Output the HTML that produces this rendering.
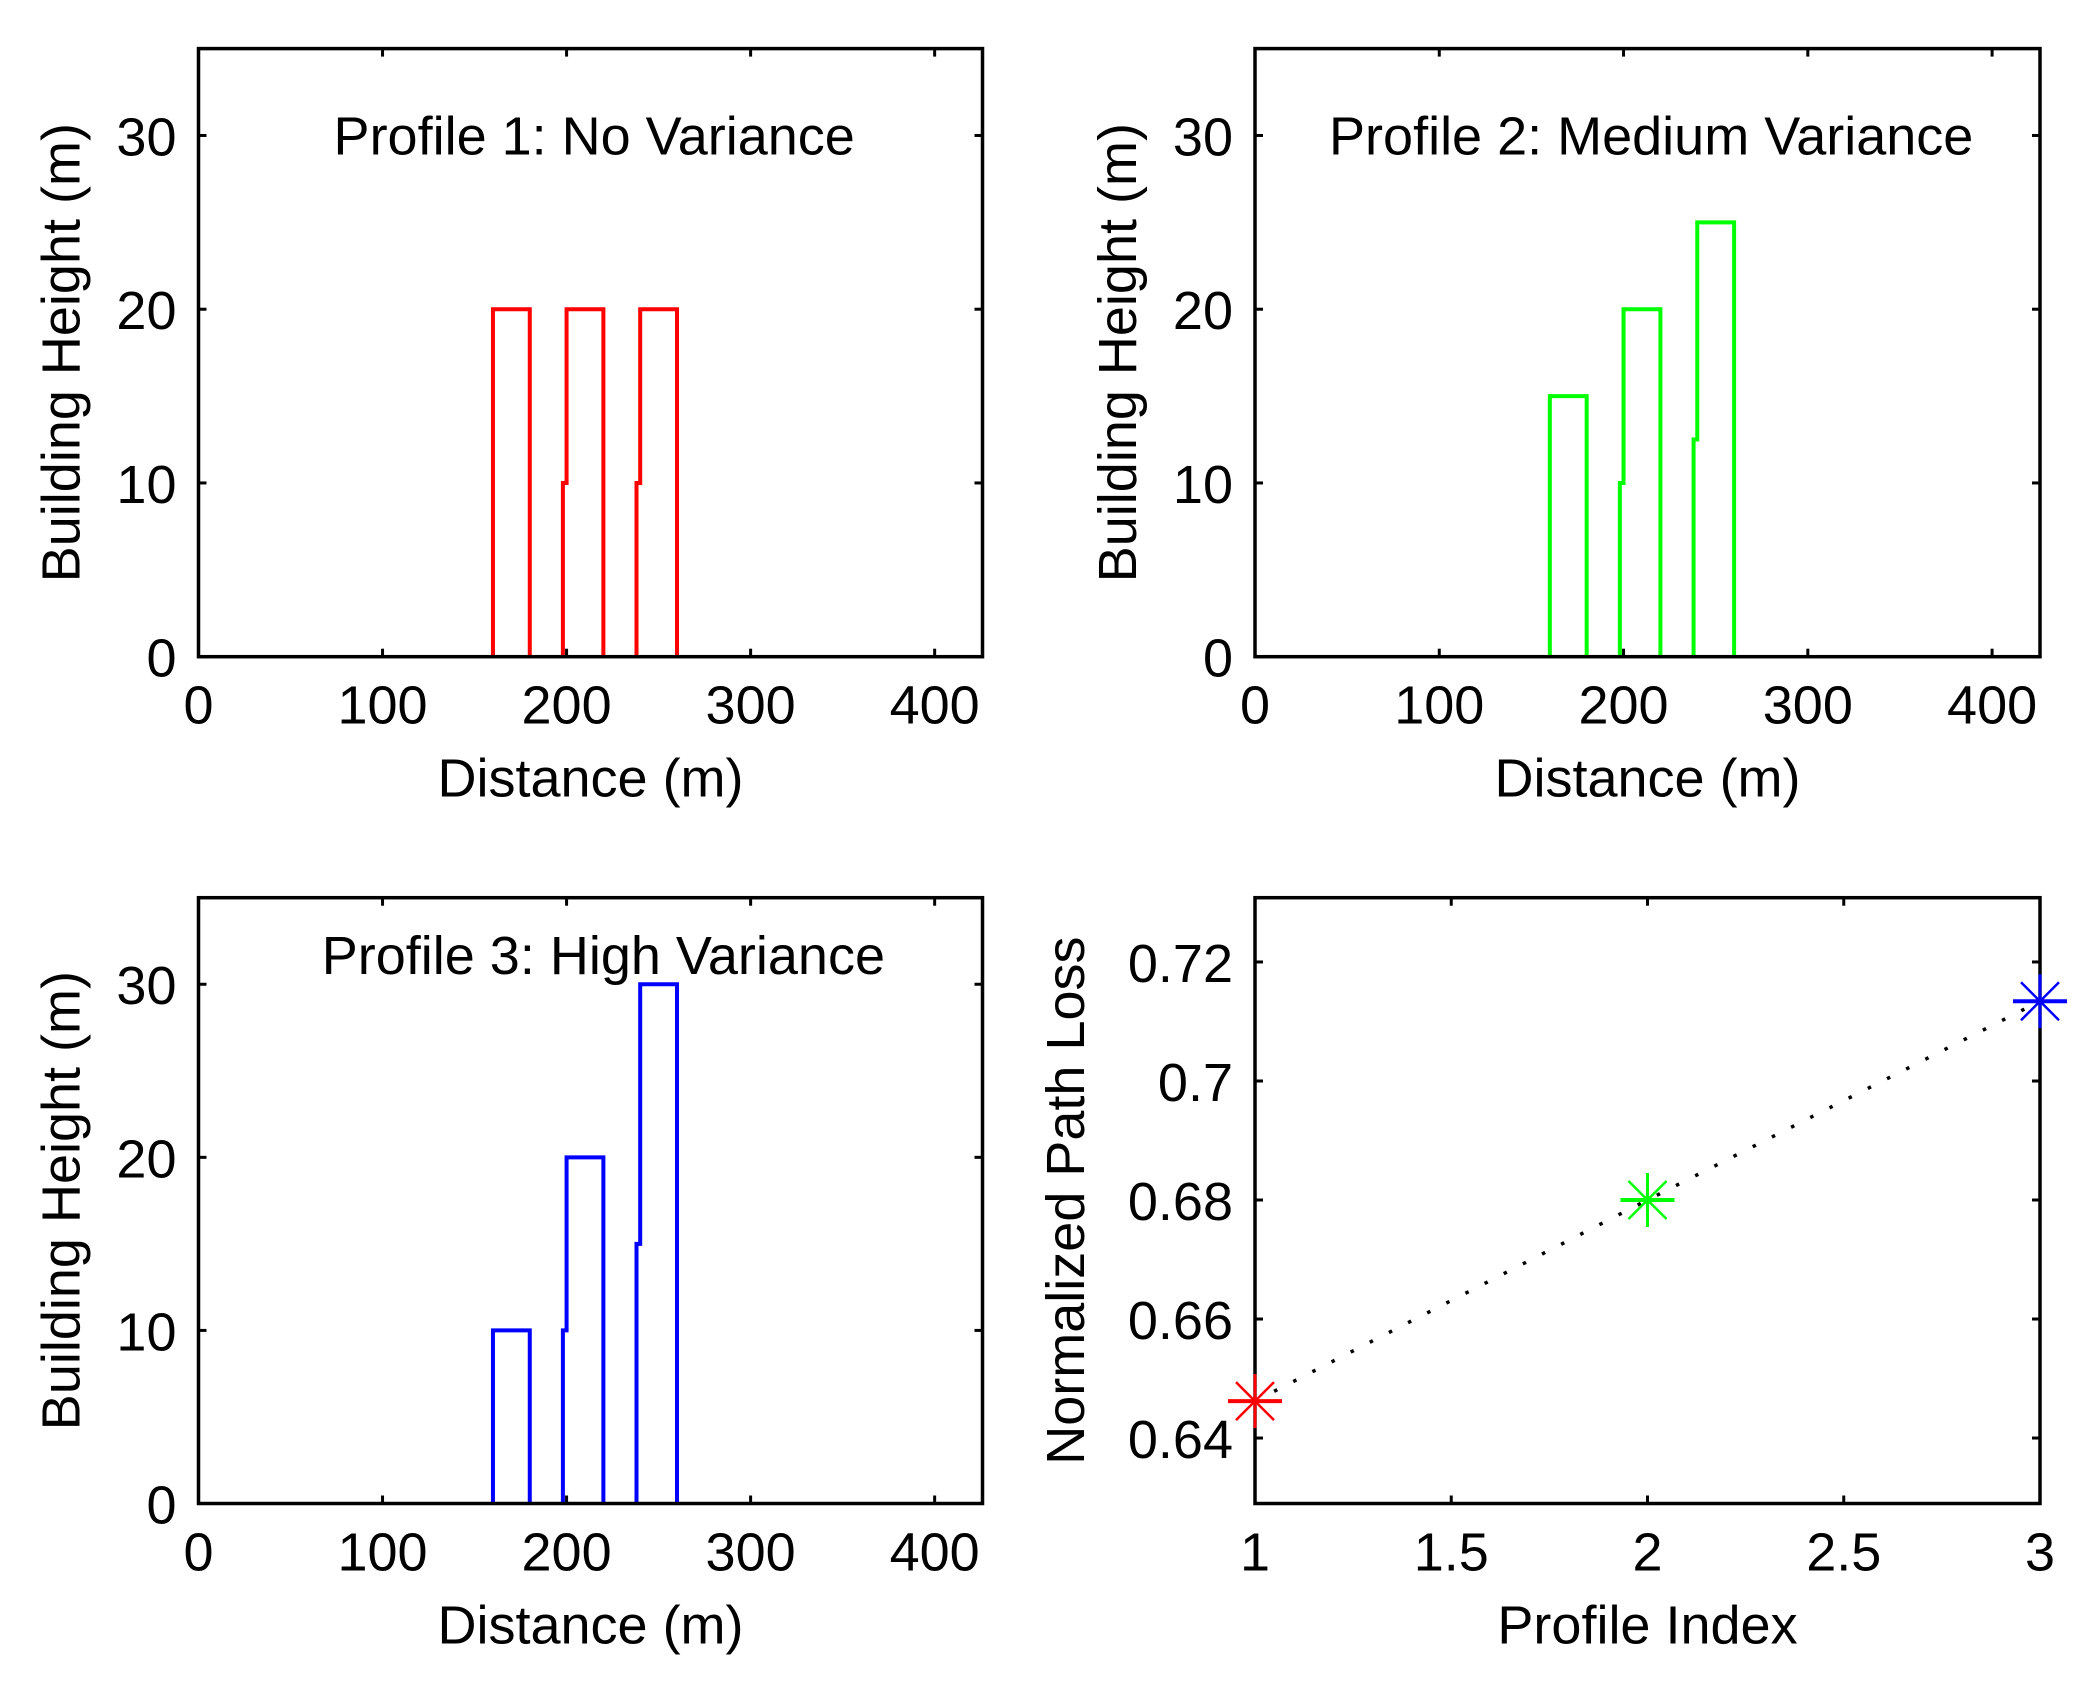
<!DOCTYPE html>
<html><head><meta charset="utf-8"><style>
html,body{margin:0;padding:0;background:#fff;}
svg{display:block;}
text{font-family:"Liberation Sans",sans-serif;fill:#000;}
</style></head><body>
<svg id="fig" width="2095" height="1686" viewBox="0 0 2095 1686" xmlns="http://www.w3.org/2000/svg"></svg>
<script>
// ---- data ----
const buildingStarts = [160, 200, 240];
const buildingWidth = 20;
const heights1 = [20, 20, 20];
const heights2 = [15, 20, 25];
const heights3 = [10, 20, 30];
const jogs1 = [0, 10, 10];
const jogs2 = [0, 10, 12.5];
const jogs3 = [0, 10, 15];
const profileTitles = ["Profile 1: No Variance", "Profile 2: Medium Variance", "Profile 3: High Variance"];
const profileColors = ["#ff0000", "#00ff00", "#0000ff"];
const distTicks = [0, 100, 200, 300, 400];
const heightTicks = [0, 10, 20, 30];
const profileIndex = [1, 2, 3];
const pathLoss = [0.6462, 0.68, 0.7134];
const indexTicks = [1, 1.5, 2, 2.5, 3];
const indexTickLabels = ["1", "1.5", "2", "2.5", "3"];
const lossTicks = [0.64, 0.66, 0.68, 0.70, 0.72];
const lossTickLabels = ["0.64", "0.66", "0.68", "0.7", "0.72"];

const NS = "http://www.w3.org/2000/svg";
const svg = document.getElementById("fig");
function mk(tag, attrs, parent) {
  const e = document.createElementNS(NS, tag);
  for (const k in attrs) e.setAttribute(k, attrs[k]);
  (parent || svg).appendChild(e);
  return e;
}
function axes(box, xlim, ylim, xt, xtl, yt, ytl, xlabel, ylabel, ylabOff, name) {
  const g = mk("g", {});
  
  
  const sx = v => box.l + (v - xlim[0]) / (xlim[1] - xlim[0]) * (box.r - box.l);
  const sy = v => box.b - (v - ylim[0]) / (ylim[1] - ylim[0]) * (box.b - box.t);
  const dataG = mk("g", {}, g);
  
  
  const frame = mk("rect", {x: box.l, y: box.t, width: box.r - box.l, height: box.b - box.t, fill: "none", stroke: "#000", "stroke-width": 3.5}, g);
  
  
  xt.forEach((v, i) => {
    const x = sx(v);
    mk("line", {x1: x, x2: x, y1: box.b, y2: box.b - 8, stroke: "#000", "stroke-width": 3}, g);
    mk("line", {x1: x, x2: x, y1: box.t, y2: box.t + 8, stroke: "#000", "stroke-width": 3}, g);
    const t = mk("text", {x: x, y: box.b + 67, "font-size": 54, "text-anchor": "middle"}, g);
    t.textContent = xtl[i];
    
    
  });
  yt.forEach((v, i) => {
    const y = sy(v);
    mk("line", {x1: box.l, x2: box.l + 8, y1: y, y2: y, stroke: "#000", "stroke-width": 3}, g);
    mk("line", {x1: box.r, x2: box.r - 8, y1: y, y2: y, stroke: "#000", "stroke-width": 3}, g);
    const t = mk("text", {x: box.l - 22, y: y + 20, "font-size": 54, "text-anchor": "end"}, g);
    t.textContent = ytl[i];
    
    
  });
  const xl = mk("text", {x: (box.l + box.r) / 2, y: box.b + 140, "font-size": 54, "text-anchor": "middle"}, g);
  xl.textContent = xlabel;
  
  
  const cy = (box.t + box.b) / 2, cx = box.l - ylabOff;
  const yl = mk("text", {x: cx, y: cy, "font-size": 54, "text-anchor": "middle", "dominant-baseline": "central", transform: `rotate(-90 ${cx} ${cy})`}, g);
  yl.textContent = ylabel;
  
  
  return {sx, sy, g: dataG, outer: g};
}

const boxes = [
  {l: 198.5, r: 982.5, t: 48.6, b: 656.7},
  {l: 1255, r: 2040, t: 48.6, b: 656.7},
  {l: 198.5, r: 982.5, t: 897.7, b: 1503.5}
];
const allHeights = [heights1, heights2, heights3];
const allJogs = [jogs1, jogs2, jogs3];
const titleX = [215, 215, 220];
const titleY = [28.9, 28.9, 30.6];
for (let p = 0; p < 3; p++) {
  const a = axes(boxes[p], [0, 426], [0, 35], distTicks, distTicks.map(String), heightTicks, heightTicks.map(String),
    "Distance (m)", "Building Height (m)", 137, "profile-" + (p + 1) + "-panel");
  const hs = allHeights[p], js = allJogs[p];
  buildingStarts.forEach((s, i) => {
    let pts = [];
    if (i === 0) {
      pts.push([s, 0], [s, hs[i]]);
    } else {
      pts.push([s - 2, 0], [s - 2, js[i]], [s, js[i]], [s, hs[i]]);
    }
    pts.push([s + buildingWidth, hs[i]], [s + buildingWidth, 0]);
    const pl = mk("polyline", {points: pts.map(q => a.sx(q[0]) + "," + a.sy(q[1])).join(" "), fill: "none", stroke: profileColors[p], "stroke-width": 4}, a.g);
    
    
  });
  const tt = mk("text", {x: a.sx(titleX[p]), y: a.sy(titleY[p]), "font-size": 54, "text-anchor": "middle"}, a.outer);
  tt.textContent = profileTitles[p];
  
  
}

// path loss panel
const a4 = axes({l: 1255, r: 2040, t: 897.7, b: 1503.5}, [1, 3], [0.629, 0.7308], indexTicks, indexTickLabels, lossTicks, lossTickLabels,
  "Profile Index", "Normalized Path Loss", 189, "path-loss-panel");
const ln = mk("polyline", {points: profileIndex.map((v, i) => a4.sx(v) + "," + a4.sy(pathLoss[i])).join(" "), fill: "none", stroke: "#000", "stroke-width": 3.5, "stroke-dasharray": "3.5 18"}, a4.g);


profileIndex.forEach((v, i) => {
  const x = a4.sx(v), y = a4.sy(pathLoss[i]), r = 27, d = 19;
  const m = mk("g", {stroke: profileColors[i]}, a4.outer);
  
  
  mk("line", {x1: x - r, x2: x + r, y1: y, y2: y, "stroke-width": 4}, m);
  mk("line", {x1: x, x2: x, y1: y - r, y2: y + r, "stroke-width": 3}, m);
  mk("line", {x1: x - d, x2: x + d, y1: y - d, y2: y + d, "stroke-width": 2.5}, m);
  mk("line", {x1: x - d, x2: x + d, y1: y + d, y2: y - d, "stroke-width": 2.5}, m);
});
</script>
</body></html>
